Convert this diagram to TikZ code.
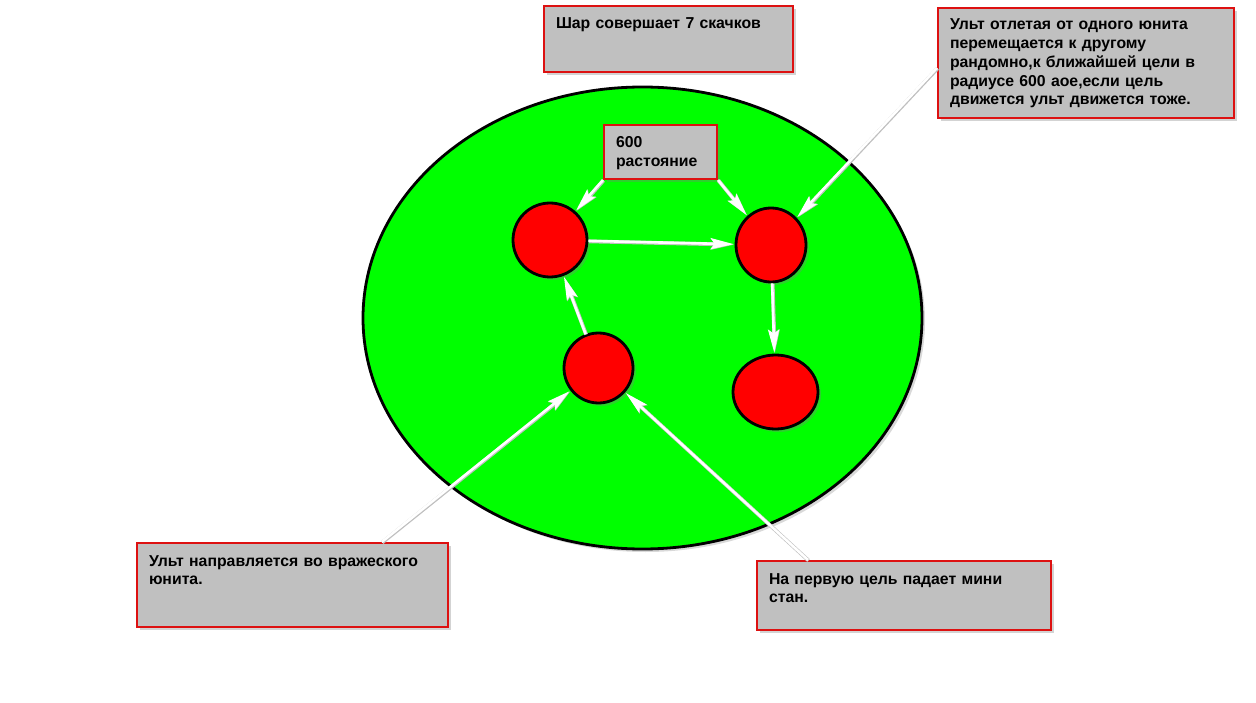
\documentclass[tikz,border=0pt]{standalone}
\usepackage{fontspec}
\setmainfont{Liberation Sans}
\usepackage{xcolor}
\usepackage{tikz}
\usetikzlibrary{shapes.geometric, arrows.meta, calc, shadows}
\definecolor{zonegreen}{HTML}{00FF00}
\definecolor{unitred}{HTML}{FF0000}
\definecolor{noteline}{HTML}{DD1111}
\definecolor{notefill}{HTML}{C0C0C0}

\begin{document}
\begin{tikzpicture}[x=1pt, y=-1pt,
  note/.style={draw=noteline, line width=2pt, fill=notefill, anchor=north west,
    inner xsep=12pt, inner ysep=0pt, align=left, text height=23pt,
    font=\fontsize{15.8}{18.7}\selectfont\bfseries,
    drop shadow={shadow xshift=3pt, shadow yshift=-3pt, opacity=0.35}},
  zone/.style={ellipse, draw=black, line width=2.8pt, fill=zonegreen, inner sep=0pt,
    drop shadow={shadow xshift=3pt, shadow yshift=-3pt, opacity=0.3}},
  unit/.style={ellipse, draw=black, line width=2.8pt, fill=unitred, inner sep=0pt,
    drop shadow={shadow xshift=3pt, shadow yshift=-3pt, opacity=0.35}},
  arrow/.style={-{Stealth[length=23pt, width=11pt, inset=4pt]}, line width=2.6pt,
    draw=white, fill=white, shorten >=1pt,
    preaction={draw=black!25, fill=black!25, line width=3.8pt,
      transform canvas={shift={(0.5pt,-0.5pt)}}}}]

  \useasboundingbox (0,0) rectangle (1256,703);

  \node[zone, minimum width=559, minimum height=462] (area) at (642.5,318) {};

  \node[unit, minimum width=74, minimum height=74] (hopa) at (550,240) {};
  \node[unit, minimum width=70, minimum height=74] (hopb) at (771,245) {};
  \node[unit, minimum width=69, minimum height=70] (first) at (598.5,368) {};
  \node[unit, minimum width=85, minimum height=74] (last) at (775.5,392) {};

  \node[note, text width=225pt, text depth=43pt] (jumps) at (543,5)
    {Шар совершает 7 скачков};
  \node[note, text width=272pt, text depth=88pt, text height=22pt] (aoe) at (937,7)
    {Ульт отлетая от одного юнита\\перемещается к другому\\рандомно,к ближайшей цели в\\радиусе 600 аое,если цель\\движется ульт движется тоже.};
  \node[note, text width=89pt, text depth=31pt] (range) at (603,124)
    {600\\растояние};
  \node[note, text width=287pt, text depth=61pt] (target) at (136,542)
    {Ульт направляется во вражеского\\юнита.};
  \node[note, text width=270pt, text depth=46pt] (stun) at (756,560)
    {На первую цель падает мини\\стан.};

  \draw[arrow] (range.south west) -- (hopa);
  \draw[arrow] (range.south east) -- (hopb);
  \draw[arrow] ([yshift=-5pt]aoe.west) -- (hopb);
  \draw[arrow] (hopa) -- (hopb);
  \draw[arrow] (hopb) -- (last);
  \draw[arrow] (first) -- (hopa);
  \draw[arrow] ($(target.north west)!0.785!(target.north east)$) -- (first);
  \draw[arrow] ([xshift=52pt]stun.north west) -- (first);
\end{tikzpicture}
\end{document}
